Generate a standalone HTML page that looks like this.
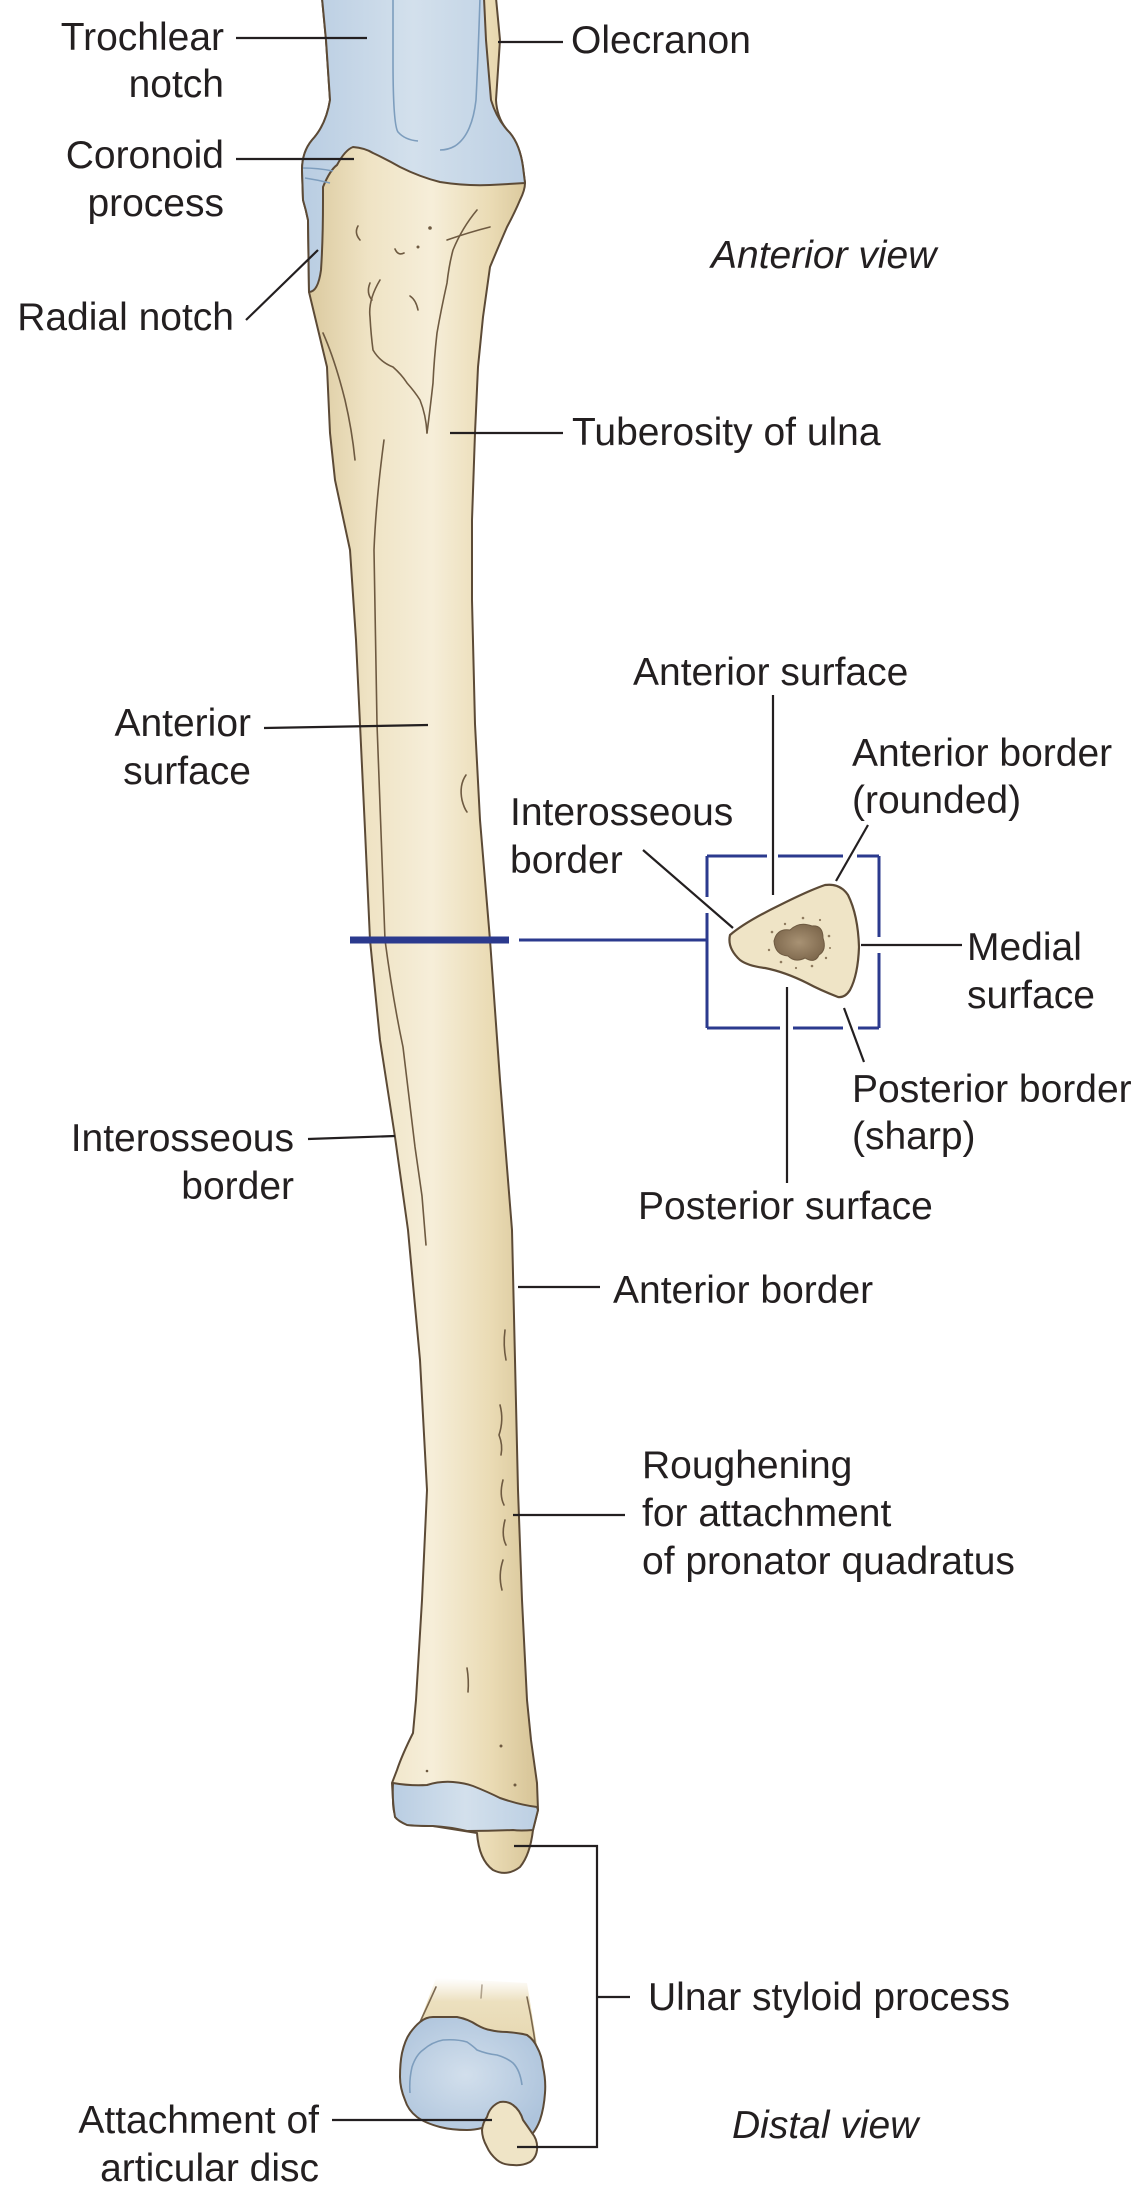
<!DOCTYPE html>
<html>
<head>
<meta charset="utf-8">
<style>
  html, body { margin: 0; padding: 0; background: #ffffff; }
  svg { display: block; }
  .t { font-family: "Liberation Sans", Arial, sans-serif; font-size: 39px; fill: #231f20; }
  .i { font-style: italic; }
  .ld { stroke: #231f20; stroke-width: 2.2; fill: none; }
  .bx { stroke: #2b3a8e; stroke-width: 3; fill: none; }
  .det { stroke: #6e5a41; stroke-width: 1.6; fill: none; stroke-linecap: round; }
  .bl { stroke: #7d9dbd; stroke-width: 1.6; fill: none; }
</style>
</head>
<body>
<svg width="1143" height="2211" viewBox="0 0 1143 2211" xmlns="http://www.w3.org/2000/svg">
  <defs>
    <linearGradient id="tan" x1="0" y1="0" x2="1" y2="0">
      <stop offset="0" stop-color="#d9c79b"/>
      <stop offset="0.28" stop-color="#efe3c4"/>
      <stop offset="0.55" stop-color="#f6eed9"/>
      <stop offset="0.8" stop-color="#eadbb4"/>
      <stop offset="1" stop-color="#d6c396"/>
    </linearGradient>
    <linearGradient id="blu" x1="0" y1="0" x2="1" y2="0">
      <stop offset="0" stop-color="#b9cde2"/>
      <stop offset="0.5" stop-color="#d3e0ec"/>
      <stop offset="1" stop-color="#bccfe3"/>
    </linearGradient>
    <radialGradient id="blu2" cx="0.45" cy="0.5" r="0.6">
      <stop offset="0" stop-color="#d2dfec"/>
      <stop offset="1" stop-color="#aec4dc"/>
    </radialGradient>
    <linearGradient id="stub" x1="0" y1="0" x2="0" y2="1">
      <stop offset="0" stop-color="#efe3c4" stop-opacity="0"/>
      <stop offset="0.35" stop-color="#ece0bf" stop-opacity="1"/>
      <stop offset="1" stop-color="#e6d7b0"/>
    </linearGradient>
    <radialGradient id="cav" cx="0.5" cy="0.5" r="0.6">
      <stop offset="0" stop-color="#a89274"/>
      <stop offset="1" stop-color="#7a6449"/>
    </radialGradient>
  </defs>

  <!-- ===== Anterior view: ulna silhouette ===== -->
  <path fill="url(#tan)" stroke="#5c4a36" stroke-width="2" stroke-linejoin="round"
    d="M322,-2 L326,40 L330,100 Q326,125 312,140 Q302,152 302,170 L303,200 Q306,210 308,220 L309,292
       Q318,330 327,367 L330,433 L335,480 L350,550 L356,640 L360,724 L365,830 L370,940 L380,1040
       L395,1137 L408,1230 L420,1360 L427,1490 L422,1600 L416,1700 L413,1733 Q402,1755 397,1770 L392,1783
       L393,1800 Q393,1815 398,1819 Q405,1826 433,1826 L477,1833 Q479,1860 493,1870 Q507,1877 520,1867
       Q530,1855 533,1830 L538,1810 L537,1783 L531,1740 L527,1700 L522,1600 L518,1490 L512,1230
       L500,1080 L490,940 L480,820 L475,724 L472,600 L472,520 L475,433 L478,367 L483,317 L490,267
       Q497,250 507,227 Q515,212 520,200 Q525,190 525,183 L523,167 Q520,145 510,133 Q497,120 496,100 L500,40 L496,-2 Z"/>

  <!-- trochlear notch + radial notch cartilage -->
  <path fill="url(#blu)" stroke="#5c4a36" stroke-width="2" stroke-linejoin="round"
    d="M322,-2 L326,40 L330,100 Q326,125 312,140 Q302,152 302,170 L303,200 Q306,210 308,220 L309,292
       Q318,292 321,270 Q323,240 323,200 L323,187 Q330,170 337,165 Q345,150 353,147 Q365,148 373,153
       Q388,160 400,167 Q420,177 440,182 Q465,186 490,185 Q510,184 525,183 L523,167 Q520,145 510,133
       Q497,120 491,100 L486,40 L484,-2 Z"/>
  <!-- blue inner lines -->
  <path class="bl" d="M393,-2 L393,60 Q393,125 398,132 Q405,140 418,141"/>
  <path class="bl" d="M480,-2 Q478,60 476,100 Q472,135 455,146 Q448,150 440,150"/>
  <path class="bl" d="M303,168 Q318,168 333,171"/>
  <path class="bl" d="M305,178 Q318,180 330,183"/>

  <!-- upper detail lines (tuberosity etc.) -->
  <path class="det" d="M477,210 Q462,228 453,250 Q449,265 447,283 Q441,310 437,333 Q434,360 433,383 Q430,410 427,433"/>
  <path class="det" d="M490,227 Q470,232 447,240"/>
  <path class="det" d="M380,280 Q368,300 370,317 Q371,335 373,350 Q380,362 393,367 Q402,375 407,383 Q415,392 420,400 Q426,415 427,433"/>
  <path class="det" d="M358,226 Q354,233 360,240"/>
  <path class="det" d="M395,249 Q398,256 404,253"/>
  <path class="det" d="M370,283 Q366,293 372,300"/>
  <path class="det" d="M410,296 Q416,300 418,310"/>
  <path class="det" d="M323,333 Q335,360 345,400 Q352,430 355,460"/>
  <circle cx="430" cy="228" r="1.8" fill="#6e5a41"/>
  <circle cx="418" cy="247" r="1.5" fill="#6e5a41"/>

  <!-- interosseous ridge line -->
  <path class="det" d="M384,440 Q376,500 374,550 L377,724 L385,940 Q393,1000 403,1047 L415,1147 L422,1196 L426,1245"/>
  <!-- nutrient foramen -->
  <path class="det" d="M466,775 Q459,785 462,800 Q464,808 467,812"/>

  <!-- roughening marks -->
  <path class="det" d="M505,1330 Q503,1345 506,1360"/>
  <path class="det" d="M500,1405 Q504,1420 499,1435 Q503,1445 501,1455"/>
  <path class="det" d="M503,1480 Q499,1495 504,1505"/>
  <path class="det" d="M505,1520 Q501,1535 506,1545"/>
  <path class="det" d="M503,1560 Q498,1575 502,1590"/>
  <path class="det" d="M467,1668 Q469,1680 468,1692"/>

  <!-- distal articular band -->
  <path fill="url(#blu)" stroke="#5c4a36" stroke-width="2" stroke-linejoin="round"
    d="M393,1783 Q410,1786 427,1785 Q440,1781 453,1782 Q465,1783 473,1786 Q488,1792 500,1798 Q520,1805 537,1807
       L538,1810 L533,1830 Q520,1831 513,1830 Q490,1831 467,1831 Q450,1827 433,1826 Q415,1826 407,1825
       Q398,1821 395,1817 Q392,1800 393,1783 Z"/>
  <circle cx="501" cy="1746" r="1.5" fill="#6e5a41"/>
  <circle cx="515" cy="1785" r="1.5" fill="#6e5a41"/>
  <circle cx="427" cy="1771" r="1.3" fill="#6e5a41"/>

  <!-- section marker -->
  <rect x="350" y="936.5" width="159" height="7" fill="#2b3a8e"/>
  <line x1="519" y1="940" x2="707" y2="940" class="bx"/>

  <!-- box with gaps -->
  <path class="bx" d="M707,856 L767,856 M778,856 L843,856 M857,856 L879,856
                      M879,856 L879,937 M879,953 L879,1028
                      M879,1028 L858,1028 M843,1028 L793,1028 M780,1028 L707,1028
                      M707,1028 L707,913 M707,897 L707,856"/>

  <!-- cross-section -->
  <path fill="#efe4c6" stroke="#5c4a36" stroke-width="2.2" stroke-linejoin="round"
    d="M730,935 Q745,922 780,905 Q810,890 825,885 Q840,883 848,895 Q858,915 859,947 Q858,975 850,990
       Q845,998 838,997 Q820,990 807,983 Q785,972 765,968 Q748,966 740,960 Q727,948 730,935 Z"/>
  <path fill="url(#cav)" stroke="#6e5a41" stroke-width="1"
    d="M774,941 Q777,928 790,930 Q799,921 812,926 Q823,925 823,938 Q827,950 819,955 Q815,964 805,958
       Q795,963 788,956 Q775,955 774,941 Z"/>
  <g fill="#8e7a5e">
    <circle cx="772" cy="932" r="1.3"/><circle cx="785" cy="924" r="1.2"/><circle cx="803" cy="918" r="1.3"/>
    <circle cx="820" cy="920" r="1.1"/><circle cx="829" cy="936" r="1.3"/><circle cx="826" cy="958" r="1.2"/>
    <circle cx="812" cy="966" r="1.3"/><circle cx="796" cy="968" r="1.1"/><circle cx="781" cy="962" r="1.3"/>
    <circle cx="769" cy="950" r="1.2"/><circle cx="830" cy="948" r="1"/>
  </g>

  <!-- ===== Distal view ===== -->
  <path fill="url(#stub)" d="M436,1978 L527,1983 L537,2045 L416,2032 Z"/>
  <path class="det" d="M436,1987 Q428,2005 420,2022" stroke-opacity="0.9"/>
  <path class="det" d="M527,1997 Q532,2020 535,2042" stroke-opacity="0.9"/>
  <path class="det" d="M482,1985 L481,1998" stroke-opacity="0.5"/>
  <path fill="url(#blu2)" stroke="#5c4a36" stroke-width="2" stroke-linejoin="round"
    d="M420,2022 Q426,2017 433,2017 L457,2017 Q468,2019 477,2025 Q484,2029 490,2030 Q498,2032 507,2032
       Q520,2033 527,2035 Q534,2040 537,2047 Q542,2056 543,2067 Q546,2080 545,2093 Q544,2108 540,2120
       Q537,2128 533,2133 L482,2128 Q474,2130 467,2130 Q452,2130 440,2127 Q425,2123 417,2117
       Q408,2110 405,2100 Q400,2088 400,2077 Q400,2063 402,2053 Q405,2040 410,2033 Q415,2026 420,2022 Z"/>
  <path class="bl" d="M410,2093 Q409,2080 412,2067 Q416,2055 423,2050 Q432,2042 443,2040 Q457,2039 467,2042
       Q473,2046 477,2050 Q487,2054 497,2055 Q507,2058 513,2063 Q520,2070 522,2085"/>
  <path fill="#efe4c6" stroke="#5c4a36" stroke-width="2" stroke-linejoin="round"
    d="M487,2117 Q490,2106 500,2102 Q508,2101 513,2105 Q520,2110 523,2120 Q528,2127 532,2133
       Q538,2140 537,2150 Q536,2158 530,2162 Q522,2166 513,2165 Q503,2165 497,2160 Q490,2154 487,2147
       Q482,2138 482,2130 Q483,2122 487,2117 Z"/>

  <!-- ===== Leader lines ===== -->
  <line class="ld" x1="236" y1="38" x2="367" y2="38"/>
  <line class="ld" x1="498" y1="42" x2="563" y2="42"/>
  <line class="ld" x1="236" y1="159" x2="354" y2="159"/>
  <line class="ld" x1="246" y1="320" x2="318" y2="250"/>
  <line class="ld" x1="450" y1="433" x2="563" y2="433"/>
  <line class="ld" x1="264" y1="728" x2="428" y2="725"/>
  <line class="ld" x1="308" y1="1139" x2="395" y2="1136"/>
  <line class="ld" x1="773" y1="695" x2="773" y2="895"/>
  <line class="ld" x1="868" y1="825" x2="836" y2="881"/>
  <line class="ld" x1="643" y1="850" x2="733" y2="928"/>
  <line class="ld" x1="861" y1="945" x2="962" y2="945"/>
  <line class="ld" x1="844" y1="1008" x2="864" y2="1062"/>
  <line class="ld" x1="787" y1="987" x2="787" y2="1183"/>
  <line class="ld" x1="518" y1="1287" x2="600" y2="1287"/>
  <line class="ld" x1="513" y1="1515" x2="625" y2="1515"/>
  <path class="ld" d="M514,1846 L597,1846 L597,2147 L517,2147 M597,1997 L630,1997"/>
  <line class="ld" x1="332" y1="2120" x2="492" y2="2120"/>

  <!-- ===== Labels ===== -->
  <text class="t" x="224" y="50" text-anchor="end">Trochlear</text>
  <text class="t" x="224" y="97" text-anchor="end">notch</text>
  <text class="t" x="571" y="53">Olecranon</text>
  <text class="t" x="224" y="168" text-anchor="end">Coronoid</text>
  <text class="t" x="224" y="216" text-anchor="end">process</text>
  <text class="t i" x="711" y="268">Anterior view</text>
  <text class="t" x="234" y="330" text-anchor="end">Radial notch</text>
  <text class="t" x="572" y="445">Tuberosity of ulna</text>

  <text class="t" x="633" y="685">Anterior surface</text>
  <text class="t" x="251" y="736" text-anchor="end">Anterior</text>
  <text class="t" x="251" y="784" text-anchor="end">surface</text>
  <text class="t" x="852" y="766">Anterior border</text>
  <text class="t" x="852" y="813">(rounded)</text>
  <text class="t" x="510" y="825">Interosseous</text>
  <text class="t" x="510" y="873">border</text>
  <text class="t" x="967" y="960">Medial</text>
  <text class="t" x="967" y="1008">surface</text>
  <text class="t" x="852" y="1102">Posterior border</text>
  <text class="t" x="852" y="1149">(sharp)</text>
  <text class="t" x="294" y="1151" text-anchor="end">Interosseous</text>
  <text class="t" x="294" y="1199" text-anchor="end">border</text>
  <text class="t" x="638" y="1219">Posterior surface</text>
  <text class="t" x="613" y="1303">Anterior border</text>
  <text class="t" x="642" y="1478">Roughening</text>
  <text class="t" x="642" y="1526">for attachment</text>
  <text class="t" x="642" y="1574">of pronator quadratus</text>
  <text class="t" x="648" y="2010">Ulnar styloid process</text>
  <text class="t i" x="732" y="2138">Distal view</text>
  <text class="t" x="319" y="2133" text-anchor="end">Attachment of</text>
  <text class="t" x="319" y="2181" text-anchor="end">articular disc</text>
</svg>
</body>
</html>
